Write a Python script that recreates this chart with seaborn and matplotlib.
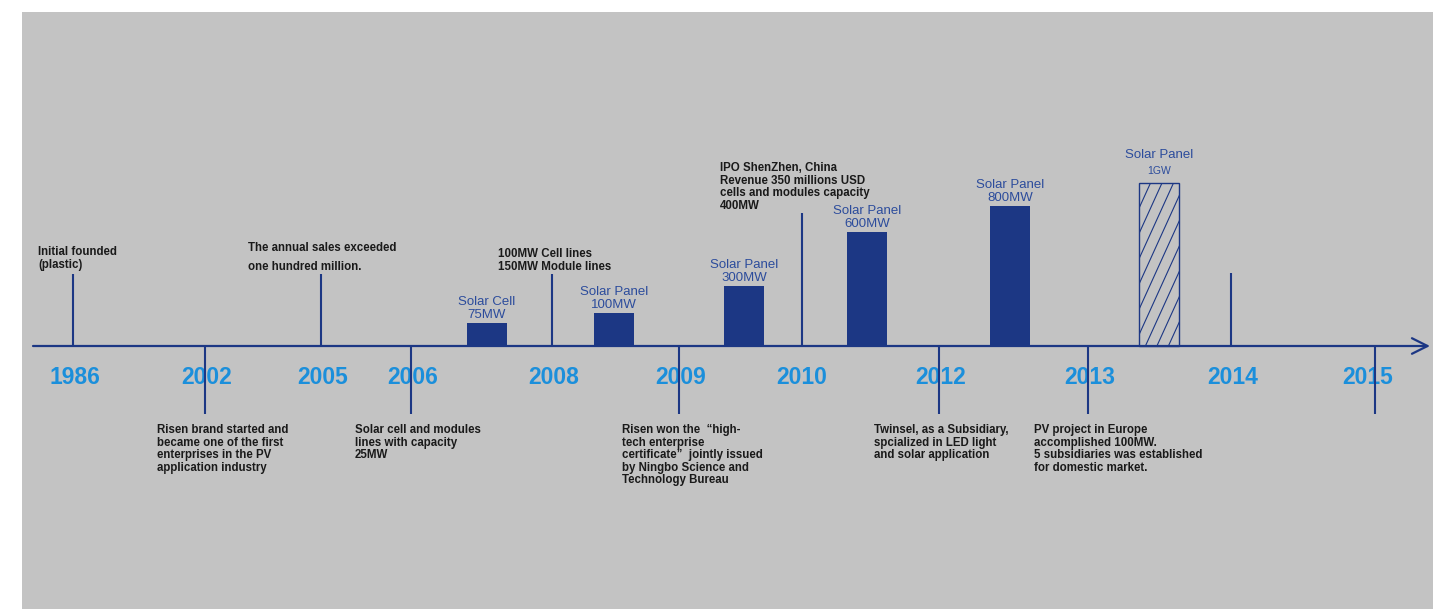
import numpy as np
import matplotlib
matplotlib.use("Agg")
import matplotlib.pyplot as plt
from matplotlib import font_manager
import seaborn as sns

# timeline events (position along the drawn timeline, stem length up(+)/down(-))
years = ["1986", "2002", "2005", "2006", "2008", "2009", "2010", "2012", "2013", "2014", "2015"]
year_pos = [73, 205, 321, 411, 552, 679, 802, 939, 1088, 1231, 1375]
stem_len = [72, -68, 72, -68, 72, -68, 133, -68, -68, 73, -68]

# milestone notes: which event they belong to and text
note_year = ["1986", "2005", "2008", "2010", "2002", "2006", "2009", "2012", "2013"]
note_text = [
    "Initial founded\n(plastic)",
    "The annual sales exceeded\none hundred million.",
    "100MW Cell lines\n150MW Module lines",
    "IPO ShenZhen, China\nRevenue 350 millions USD\ncells and modules capacity\n400MW",
    "Risen brand started and\nbecame one of the first\nenterprises in the PV\napplication industry",
    "Solar cell and modules\nlines with capacity\n25MW",
    "Risen won the  \u201chigh-\ntech enterprise\ncertificate\u201d  jointly issued\nby Ningbo Science and\nTechnology Bureau",
    "Twinsel, as a Subsidiary,\nspcialized in LED light\nand solar application",
    "PV project in Europe\naccomplished 100MW.\n5 subsidiaries was established\nfor domestic market.",
]

# capacity bars
bar_pos = [487, 614, 744, 867, 1010, 1159]
bar_product = ["Solar Cell", "Solar Panel", "Solar Panel", "Solar Panel", "Solar Panel", "Solar Panel"]
bar_capacity = ["75MW", "100MW", "300MW", "600MW", "800MW", "1GW"]
bar_height = [23, 33, 60, 114, 140, 163]
bar_planned = [False, False, False, False, False, True]


def has_font(name):
    try:
        font_manager.findfont(name, fallback_to_default=False)
        return True
    except Exception:
        return False


narrow = "Liberation Sans Narrow" if has_font("Liberation Sans Narrow") else "Liberation Sans"
navy = "#1c3784"
label_blue = "#2c4c9c"
year_blue = "#1b8fdb"

sns.set_style("white")

fig = plt.figure(figsize=(14.41, 6.09), dpi=100)
fig.patch.set_facecolor("white")
ax = fig.add_axes([22 / 1441, 0, 1411 / 1441, 597 / 609])
ax.set_facecolor("#c3c3c3")

pos = dict(zip(years, year_pos))

sns.barplot(x=bar_pos, y=bar_height, native_scale=True, color=navy, saturation=1,
            width=40 / np.diff(bar_pos).min(), ax=ax, zorder=2)
for patch, planned in zip(ax.patches, bar_planned):
    patch.set_linewidth(0)
    if planned:
        patch.set_facecolor("none")
        patch.set_edgecolor(navy)
        patch.set_linewidth(1.0)
        # steep diagonal hatch, clipped to the bar
        x0, w, h = patch.get_x(), patch.get_width(), patch.get_height()
        slope = 2.2
        for xs in np.arange(x0 - h / slope, x0 + w, 11.5):
            ln, = ax.plot([xs, xs + h / slope], [0, h], color=navy, lw=0.8, zorder=2)
            ln.set_clip_path(patch)

for x, h, prod, cap, planned in zip(bar_pos, bar_height, bar_product, bar_capacity, bar_planned):
    if planned:
        ax.text(x, h + 9, cap, ha="center", va="baseline", fontsize=7.5, color=label_blue, family=narrow)
        ax.text(x, h + 25, prod, ha="center", va="baseline", fontsize=9.5, color=label_blue, family=narrow)
    else:
        ax.text(x, h + 5, cap, ha="center", va="baseline", fontsize=9.5, color=label_blue, family=narrow)
        ax.text(x, h + 18, prod, ha="center", va="baseline", fontsize=9.5, color=label_blue, family=narrow)

# year labels, stems drawn over them
label_shift = {"2015": -7, "2010": 0}
for y, x in zip(years, year_pos):
    ax.text(x + label_shift.get(y, 2), -31, y, ha="center", va="center", fontsize=16.5,
            fontweight="bold", color=year_blue, family="Liberation Sans", zorder=1)
ax.vlines(year_pos, 0, stem_len, color=navy, lw=1.5, zorder=3)

# main axis arrow
ax.annotate("", xy=(1430, 0), xytext=(33, 0),
            arrowprops=dict(arrowstyle="->", lw=1.6, color=navy, mutation_scale=28,
                            shrinkA=0, shrinkB=0), zorder=3)

# notes, one text per line so the line pitch matches the original
note_dx = {"1986": -35, "2005": -73, "2008": -54, "2010": -82,
           "2002": -48, "2006": -56, "2009": -57, "2012": -65, "2013": -54}
note_base = {"1986": 91, "2005": 95, "2008": 89, "2010": 175}
for y, txt in zip(note_year, note_text):
    x = pos[y] + note_dx[y]
    base = note_base.get(y, -87)
    step = 19 if y == "2005" else 12.6
    for i, line in enumerate(txt.split("\n")):
        ax.text(x, base - i * step, line, ha="left", va="baseline", fontsize=8.3,
                fontweight="bold", color="#1a1a1a", family=narrow)

ax.set_xlim(22, 1433)
ax.set_ylim(-263, 334)
ax.set_xticks([])
ax.set_yticks([])
for s in ax.spines.values():
    s.set_visible(False)

fig.savefig("out.png", dpi=100, facecolor="white")
